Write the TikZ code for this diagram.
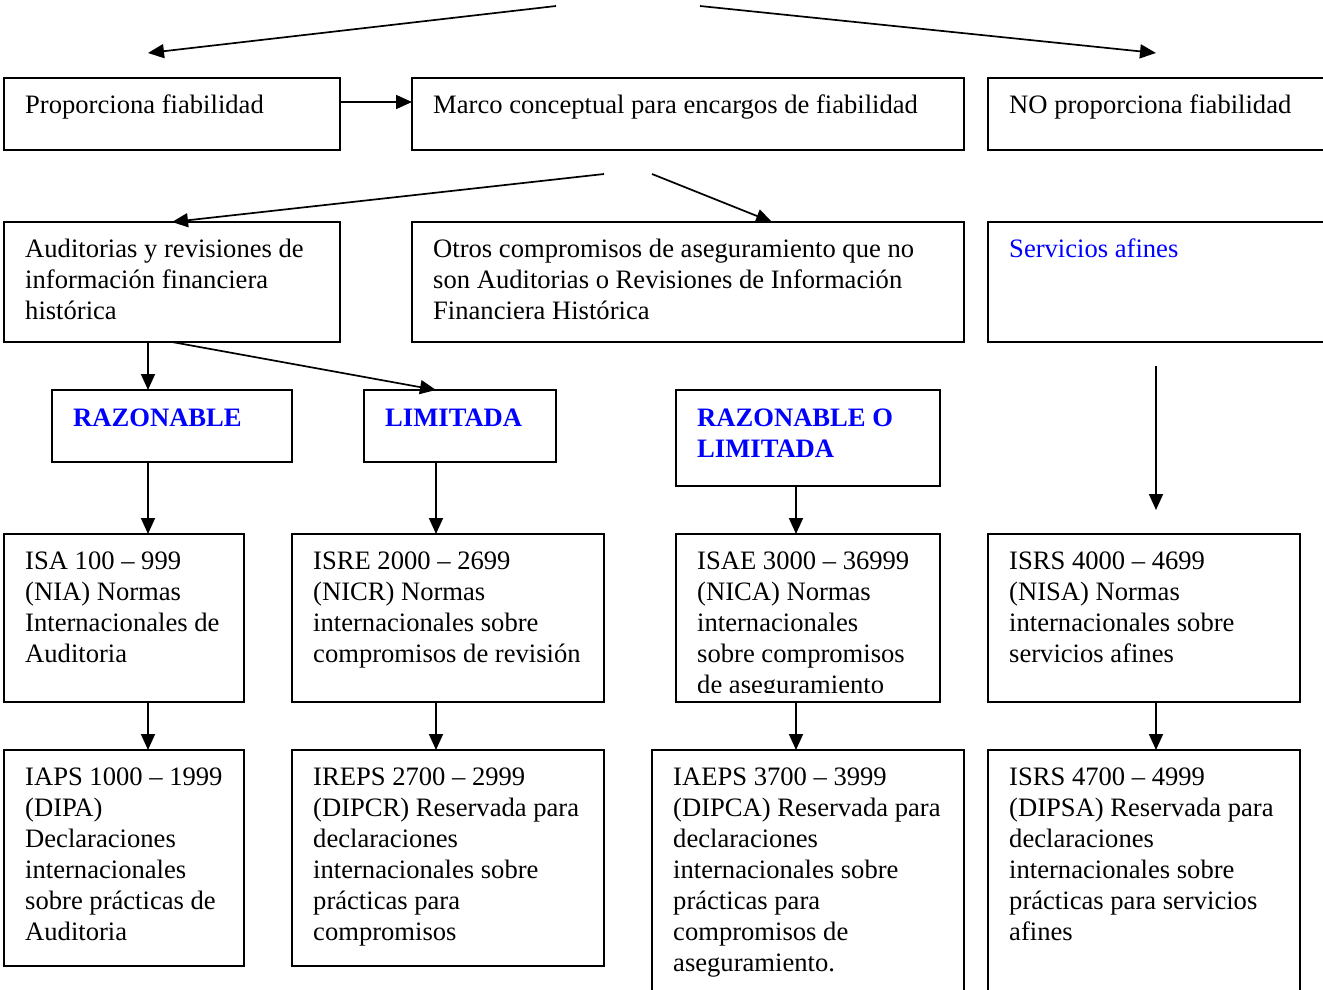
\documentclass[tikz,border=0pt]{standalone}
\usepackage{fontspec}
\setmainfont{Liberation Serif}
\usetikzlibrary{arrows.meta,calc}
\definecolor{lblue}{RGB}{0,0,255}
\newcommand{\mylines}[1]{\begin{tabular}[t]{@{}l@{}}#1\end{tabular}}
\begin{document}
\begin{tikzpicture}[x=1pt,y=-1pt,
  box/.style={draw,line width=1.8pt,anchor=north west,inner sep=0pt,outer sep=0pt},
  txt/.style={anchor=base west,inner sep=0pt,font=\fontsize{26.6}{31}\selectfont},
  btxt/.style={txt,text=lblue,font=\fontsize{26.6}{31}\selectfont\bfseries},
  btx/.style={txt,text=lblue},
  arr/.style={line width=1.7pt,-{Triangle[length=16pt,width=14pt]}}]
\useasboundingbox (0,0) rectangle (1323,989);
\clip (0,0) rectangle (1323,989);
% boxes
\node[box,minimum width=336,minimum height=72] (prop) at (4,78) {};
\node[box,minimum width=552,minimum height=72] (marco) at (412,78) {};
\node[box,minimum width=360,minimum height=72] (noprop) at (988,78) {};
\node[box,minimum width=336,minimum height=120] (aud) at (4,222) {};
\node[box,minimum width=552,minimum height=120] (otros) at (412,222) {};
\node[box,minimum width=360,minimum height=120] (serv) at (988,222) {};
\node[box,minimum width=240,minimum height=72] (raz) at (52,390) {};
\node[box,minimum width=192,minimum height=72] (lim) at (364,390) {};
\node[box,minimum width=264,minimum height=96] (rol) at (676,390) {};
\node[box,minimum width=240,minimum height=168] (isa) at (4,534) {};
\node[box,minimum width=312,minimum height=168] (isre) at (292,534) {};
\node[box,minimum width=264,minimum height=168] (isae) at (676,534) {};
\node[box,minimum width=312,minimum height=168] (isrsa) at (988,534) {};
\node[box,minimum width=240,minimum height=216] (iaps) at (4,750) {};
\node[box,minimum width=312,minimum height=216] (ireps) at (292,750) {};
\node[box,minimum width=312,minimum height=260] (iaeps) at (652,750) {};
\node[box,minimum width=312,minimum height=260] (isrsb) at (988,750) {};
% texts
\node[txt] (prop-t) at ($(prop.north west)+(21,35)$) {Proporciona fiabilidad};
\node[txt] (marco-t) at ($(marco.north west)+(21,35)$) {Marco conceptual para encargos de fiabilidad};
\node[txt] (noprop-t) at ($(noprop.north west)+(21,35)$) {NO proporciona fiabilidad};
\node[txt] (aud-t) at ($(aud.north west)+(21,35)$) {\mylines{Auditorias y revisiones de\\información financiera\\histórica}};
\node[txt] (otros-t) at ($(otros.north west)+(21,35)$) {\mylines{Otros compromisos de aseguramiento que no\\son Auditorias o Revisiones de Información\\Financiera Histórica}};
\node[btx] (serv-t) at ($(serv.north west)+(21,35)$) {Servicios afines};
\node[btxt] (raz-t) at ($(raz.north west)+(21,36)$) {RAZONABLE};
\node[btxt] (lim-t) at ($(lim.north west)+(21,36)$) {LIMITADA};
\node[btxt] (rol-t) at ($(rol.north west)+(21,36)$) {\mylines{RAZONABLE O\\LIMITADA}};
\node[txt] (isa-t) at ($(isa.north west)+(21,35)$) {\mylines{ISA 100 – 999\\(NIA) Normas\\Internacionales de\\Auditoria}};
\node[txt] (isre-t) at ($(isre.north west)+(21,35)$) {\mylines{ISRE 2000 – 2699\\(NICR) Normas\\internacionales sobre\\compromisos de revisión}};
\begin{scope}
\clip (676,534) rectangle (940,692);
\node[txt] (isae-t) at ($(isae.north west)+(21,35)$) {\mylines{ISAE 3000 – 36999\\(NICA) Normas\\internacionales\\sobre compromisos\\de aseguramiento}};
\end{scope}
\node[txt] (isrsa-t) at ($(isrsa.north west)+(21,35)$) {\mylines{ISRS 4000 – 4699\\(NISA) Normas\\internacionales sobre\\servicios afines}};
\node[txt] (iaps-t) at ($(iaps.north west)+(21,35)$) {\mylines{IAPS 1000 – 1999\\(DIPA)\\Declaraciones\\internacionales\\sobre prácticas de\\Auditoria}};
\node[txt] (ireps-t) at ($(ireps.north west)+(21,35)$) {\mylines{IREPS 2700 – 2999\\(DIPCR) Reservada para\\declaraciones\\internacionales sobre\\prácticas para\\compromisos}};
\node[txt] (iaeps-t) at ($(iaeps.north west)+(21,35)$) {\mylines{IAEPS 3700 – 3999\\(DIPCA) Reservada para\\declaraciones\\internacionales sobre\\prácticas para\\compromisos de\\aseguramiento.}};
\node[txt] (isrsb-t) at ($(isrsb.north west)+(21,35)$) {\mylines{ISRS 4700 – 4999\\(DIPSA) Reservada para\\declaraciones\\internacionales sobre\\prácticas para servicios\\afines}};
% free arrow ends
\coordinate (topl) at (556,6);
\coordinate (topl-e) at (148,53);
\coordinate (topr) at (700,6);
\coordinate (topr-e) at (1156,53);
\coordinate (midl) at (604,174);
\coordinate (midr) at (652,174);
\coordinate (sv) at (1156,366);
\coordinate (sv-e) at (1156,510);
% connectors
\draw[arr] (topl) -- (topl-e);
\draw[arr] (topr) -- (topr-e);
\draw[arr] ($(prop.north east)+(0,24)$) -- ($(marco.north west)+(0,24)$);
\draw[arr] (midl) -- ($(aud.north west)+(168,0)$);
\draw[arr] (midr) -- ($(otros.north west)+(360,0)$);
\draw[arr] ($(aud.south west)+(144,0)$) -- ($(raz.north west)+(96,0)$);
\draw[arr] ($(aud.south west)+(168,0)$) -- ($(lim.north west)+(72,0)$);
\draw[arr] ($(raz.south west)+(96,0)$) -- ($(isa.north west)+(144,0)$);
\draw[arr] ($(lim.south west)+(72,0)$) -- ($(isre.north west)+(144,0)$);
\draw[arr] ($(rol.south west)+(120,0)$) -- ($(isae.north west)+(120,0)$);
\draw[arr] (sv) -- (sv-e);
\draw[arr] ($(isa.south west)+(144,0)$) -- ($(iaps.north west)+(144,0)$);
\draw[arr] ($(isre.south west)+(144,0)$) -- ($(ireps.north west)+(144,0)$);
\draw[arr] ($(isae.south west)+(120,0)$) -- ($(iaeps.north west)+(144,0)$);
\draw[arr] ($(isrsa.south west)+(168,0)$) -- ($(isrsb.north west)+(168,0)$);
\end{tikzpicture}
\end{document}
